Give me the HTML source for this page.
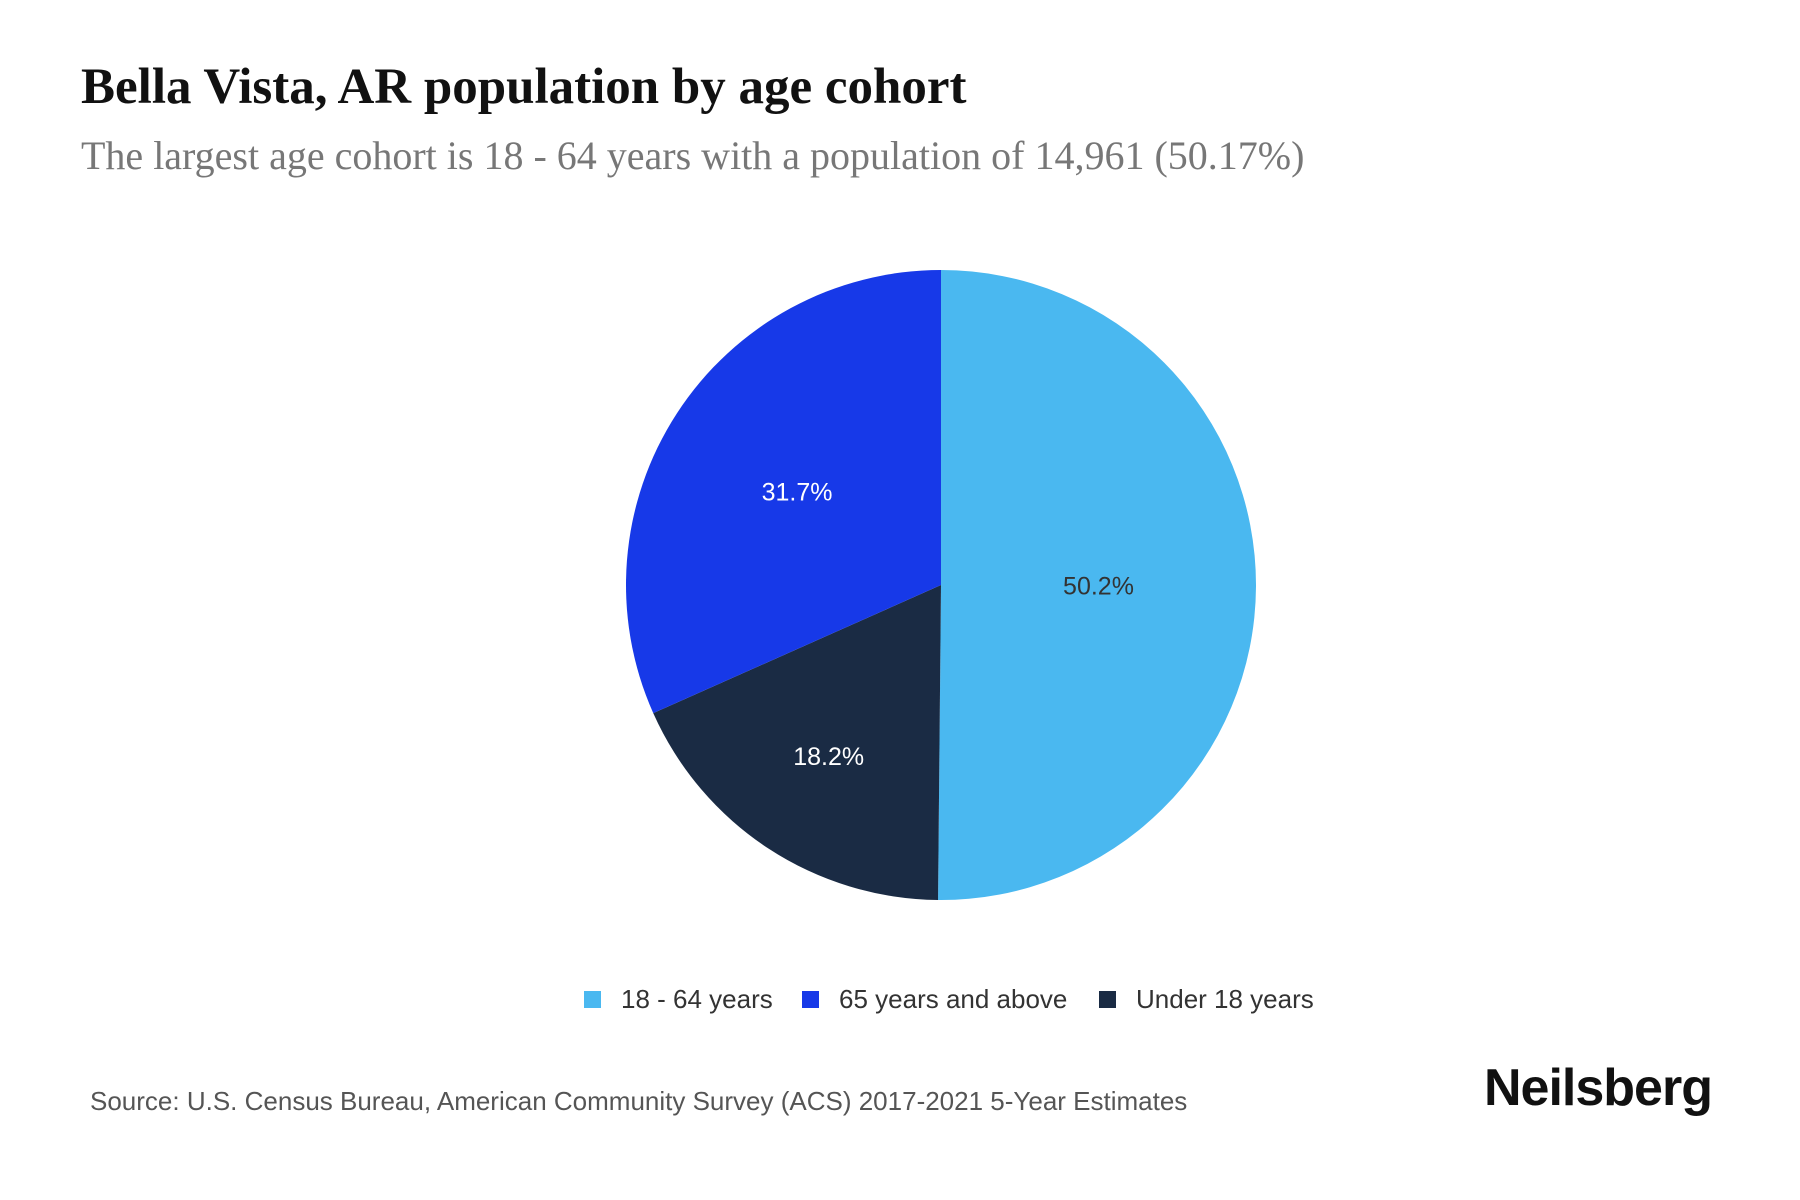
<!DOCTYPE html>
<html><head><meta charset="utf-8">
<style>
body{margin:0;background:#fff;width:1800px;height:1200px;overflow:hidden;position:relative;font-family:"Liberation Sans",sans-serif}
.t{position:absolute;white-space:nowrap}
</style></head><body>
<div class="t" style="left:81px;top:58px;font-family:'Liberation Serif',serif;font-weight:bold;font-size:51px;color:#111">Bella Vista, AR population by age cohort</div>
<div class="t" style="left:81px;top:132px;font-family:'Liberation Serif',serif;font-size:40px;color:#777">The largest age cohort is 18 - 64 years with a population of 14,961 (50.17%)</div>
<svg id="pie" width="1800" height="1200" style="position:absolute;left:0;top:0"></svg>
<div>
<div class="t" style="left:584px;top:984px;font-size:26px;color:#333"><span style="display:inline-block;width:17px;height:17px;background:#4ab8f0;margin-right:20px"></span>18 - 64 years</div>
<div class="t" style="left:802px;top:984px;font-size:26px;color:#333"><span style="display:inline-block;width:17px;height:17px;background:#1739e8;margin-right:20px"></span>65 years and above</div>
<div class="t" style="left:1099px;top:984px;font-size:26px;color:#333"><span style="display:inline-block;width:17px;height:17px;background:#1a2b44;margin-right:20px"></span>Under 18 years</div>
</div>
<div class="t" style="left:90px;top:1086px;font-size:26px;color:#555">Source: U.S. Census Bureau, American Community Survey (ACS) 2017-2021 5-Year Estimates</div>
<div class="t" style="left:1484px;top:1058px;font-size:52px;font-weight:bold;color:#111;letter-spacing:-1px">Neilsberg</div>
<script>
const categories=["18 - 64 years","Under 18 years","65 years and above"];
const values=[50.2,18.2,31.7];
const labels=["50.2%","18.2%","31.7%"];
const colors=["#4ab8f0","#1a2b44","#1739e8"];
const labelColors=["#333","#fff","#fff"];
const labelRadius=[0.5,0.65,0.545];
const svg=document.getElementById('pie');
const NS="http://www.w3.org/2000/svg";
const cx=941,cy=585,r=315;
const total=values.reduce((a,b)=>a+b,0);
let a0=0;
values.forEach((v,i)=>{
  const a1=a0+v/total*2*Math.PI;
  const x0=cx+r*Math.sin(a0),y0=cy-r*Math.cos(a0),x1=cx+r*Math.sin(a1),y1=cy-r*Math.cos(a1);
  const p=document.createElementNS(NS,'path');
  p.setAttribute('d',`M${cx},${cy}L${x0},${y0}A${r},${r} 0 ${a1-a0>Math.PI?1:0} 1 ${x1},${y1}Z`);
  p.setAttribute('fill',colors[i]);
  
  
  svg.appendChild(p);
  const am=(a0+a1)/2;
  const lr=labelRadius[i]*r;
  const t=document.createElementNS(NS,'text');
  t.setAttribute('x',cx+lr*Math.sin(am));
  t.setAttribute('y',cy-lr*Math.cos(am)+9);
  t.setAttribute('text-anchor','middle');
  t.setAttribute('font-size','25');
  t.setAttribute('font-family','Liberation Sans, sans-serif');
  t.setAttribute('fill',labelColors[i]);
  t.textContent=labels[i];
  
  
  svg.appendChild(t);
  a0=a1;
});
</script>
</body></html>
